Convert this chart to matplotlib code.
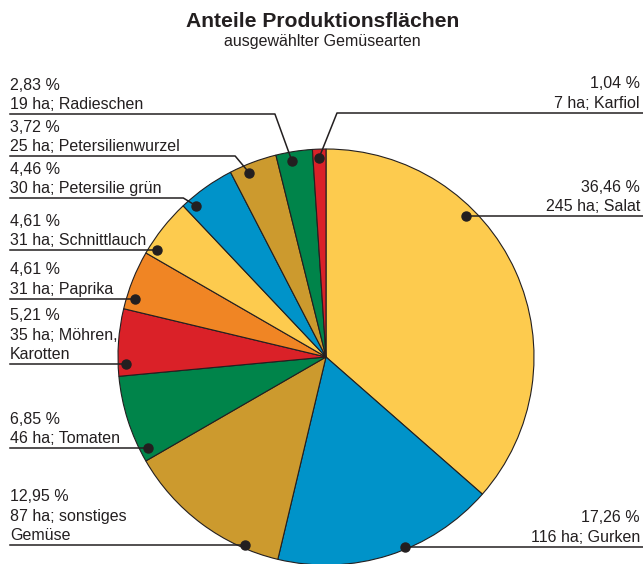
import numpy as np
import matplotlib.pyplot as plt

plt.rcParams['font.family'] = ['Liberation Sans', 'DejaVu Sans']

# data (clockwise from 12 o'clock)
names = ['Salat', 'Gurken', 'sonstiges\nGemüse', 'Tomaten', 'Möhren,\nKarotten',
         'Paprika', 'Schnittlauch', 'Petersilie grün', 'Petersilienwurzel',
         'Radieschen', 'Karfiol']
pct = [36.46, 17.26, 12.95, 6.85, 5.21, 4.61, 4.61, 4.46, 3.72, 2.83, 1.04]
ha = [245, 116, 87, 46, 35, 31, 31, 30, 25, 19, 7]
colors = ['#FDCB4E', '#0093C9', '#CC9A2E', '#00844A', '#DA2128', '#F08524',
          '#FDCB4E', '#0093C9', '#CC9A2E', '#00844A', '#DA2128']

# label layout: pixel row of leader line, side, dot placement
line_y = [216, 547, 545, 448, 364, 299, 250, 198, 156, 114, 113]
side = ['r', 'r', 'l', 'l', 'l', 'l', 'l', 'l', 'l', 'l', 'r']
# None -> dot sits on the horizontal line; number -> fraction across the wedge
tpos = [None, None, None, None, None, None, None, 0.83, 0.65, 0.6, 0.54]
rfrac = [0.955, 0.99, 0.985, 0.96, 0.96, 0.96, 0.96, 0.957, 0.96, 0.957, 0.957]
brk = [0, 0, 0, 0, 0, 0, 0, 13, 14, 17, 18]

W, H = 643, 564
ink = '#231f20'
fig = plt.figure(figsize=(W / 100, H / 100), dpi=100)
ax = fig.add_axes([0, 0, 1, 1])

cx, cy, R = 326, H - 357, 208
wedges, _ = ax.pie(pct, colors=colors, startangle=90, counterclock=False,
                   center=(cx, cy), radius=R,
                   wedgeprops=dict(edgecolor=ink, linewidth=0.8))
ax.set_xlim(0, W)
ax.set_ylim(0, H)
ax.set_aspect('equal')
ax.axis('off')

ax.text(323, H - 27, 'Anteile Produktionsflächen', ha='center', va='baseline',
        fontsize=15.2, fontweight='bold', color=ink)
ax.text(322, H - 46, 'ausgewählter Gemüsearten', ha='center', va='baseline',
        fontsize=11.5, color=ink)

for i, w in enumerate(wedges):
    ly = H - line_y[i]
    r = rfrac[i] * R
    sgn = 1 if side[i] == 'r' else -1
    edge = W if sgn > 0 else 10
    if tpos[i] is not None:
        a = np.deg2rad(w.theta1 + tpos[i] * (w.theta2 - w.theta1))
        dx, dy = cx + r * np.cos(a), cy + r * np.sin(a)
        bx = dx + brk[i] * sgn
        ax.plot([edge, bx, dx], [ly, ly, dy], color=ink, lw=1.1)
    else:
        dy = ly
        dx = cx + sgn * np.sqrt(r ** 2 - (ly - cy) ** 2)
        ax.plot([edge, dx], [ly, ly], color=ink, lw=1.1)
    ax.plot(dx, dy, 'o', ms=6.5, color=ink)

    lines = [f'{pct[i]:.2f} %'.replace('.', ',')]
    nm = names[i].split('\n')
    lines.append(f'{ha[i]} ha; {nm[0]}')
    lines += nm[1:]
    tx = 640 if sgn > 0 else 10
    for k, t in enumerate(reversed(lines)):
        ax.text(tx, ly + 5 + 19.5 * k, t, ha='right' if sgn > 0 else 'left',
                va='baseline', fontsize=11.5, color=ink)

fig.savefig('out.png', dpi=100)
